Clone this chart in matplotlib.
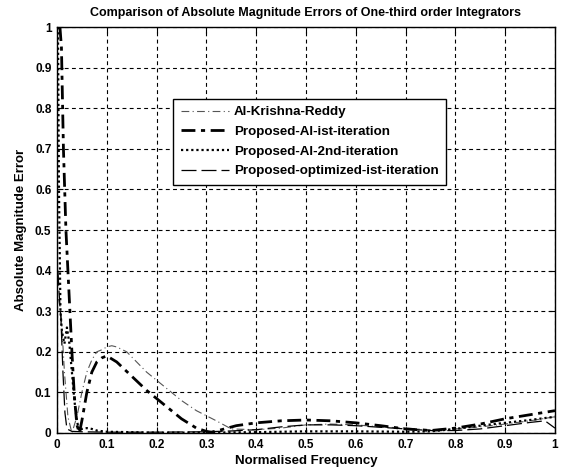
import matplotlib.pyplot as plt

# Al-Krishna-Reddy
x_akr = [0.003, 0.008, 0.015, 0.022, 0.03, 0.04, 0.05, 0.06, 0.07, 0.08, 0.09, 0.1, 0.11, 0.12, 0.14,
         0.16, 0.18, 0.2, 0.22, 0.25, 0.28, 0.32, 0.35, 0.4, 0.45, 0.5, 0.55, 0.6, 0.65, 0.7, 0.75,
         0.8, 0.85, 0.9, 0.95, 1.0]
y_akr = [0.33, 0.3, 0.15, 0.04, 0.0, 0.04, 0.1, 0.15, 0.18, 0.2, 0.205, 0.212, 0.215, 0.212, 0.2,
         0.175, 0.15, 0.13, 0.11, 0.08, 0.055, 0.03, 0.01, 0.008, 0.012, 0.02, 0.022, 0.02, 0.015, 0.012, 0.008,
         0.01, 0.015, 0.022, 0.03, 0.04]

# Proposed-Al-ist-iteration
x_p1 = [0.006, 0.009, 0.013, 0.018, 0.022, 0.026, 0.03, 0.035, 0.04, 0.045, 0.05, 0.06, 0.07, 0.08,
        0.09, 0.1, 0.12, 0.15, 0.18, 0.2, 0.22, 0.25, 0.28, 0.3, 0.31, 0.33, 0.36, 0.4, 0.45, 0.5,
        0.55, 0.6, 0.65, 0.7, 0.75, 0.8, 0.85, 0.9, 0.95, 1.0]
y_p1 = [1.0, 0.95, 0.7, 0.5, 0.4, 0.3, 0.2, 0.09, 0.02, 0.0, 0.03, 0.1, 0.15, 0.175,
        0.185, 0.19, 0.175, 0.14, 0.105, 0.085, 0.065, 0.035, 0.012, 0.004, 0.002, 0.008, 0.018, 0.025, 0.03, 0.032,
        0.03, 0.025, 0.018, 0.01, 0.006, 0.012, 0.022, 0.035, 0.045, 0.055]

# Proposed-Al-2nd-iteration
x_p2 = [0.002, 0.004, 0.007, 0.01, 0.015, 0.02, 0.025, 0.03, 0.035, 0.04, 0.045, 0.05, 0.06, 0.07,
        0.08, 0.1, 0.15, 0.2, 0.3, 0.4, 0.5, 0.6, 0.7, 0.75, 0.8, 0.85, 0.9, 0.95, 1.0]
y_p2 = [1.0, 0.6, 0.3, 0.25, 0.22, 0.26, 0.22, 0.15, 0.08, 0.03, 0.005, 0.01, 0.012, 0.01,
        0.006, 0.003, 0.002, 0.001, 0.001, 0.002, 0.004, 0.004, 0.003, 0.004, 0.01, 0.018, 0.025, 0.032, 0.04]

# Proposed-optimized-ist-iteration
x_opt = [0.002, 0.004, 0.008, 0.012, 0.016, 0.02, 0.03, 0.05, 0.1, 0.2, 0.3, 0.35, 0.4, 0.45, 0.5,
         0.55, 0.6, 0.65, 0.7, 0.75, 0.8, 0.85, 0.9, 0.95, 0.98, 1.0]
y_opt = [0.4, 0.35, 0.28, 0.15, 0.05, 0.01, 0.004, 0.003, 0.002, 0.002, 0.003, 0.005, 0.008, 0.015, 0.02,
         0.02, 0.018, 0.014, 0.01, 0.006, 0.006, 0.01, 0.018, 0.026, 0.03, 0.012]

x_ticks = [0, 0.1, 0.2, 0.3, 0.4, 0.5, 0.6, 0.7, 0.8, 0.9, 1]
y_ticks = [0, 0.1, 0.2, 0.3, 0.4, 0.5, 0.6, 0.7, 0.8, 0.9, 1]
tick_labels = ["0", "0.1", "0.2", "0.3", "0.4", "0.5", "0.6", "0.7", "0.8", "0.9", "1"]

plt.rcParams["font.family"] = ["Liberation Sans", "DejaVu Sans"]
plt.rcParams["font.weight"] = "bold"

fig = plt.figure(figsize=(5.64, 4.73), dpi=100)
ax = fig.add_axes([0.101, 0.0846, 0.883, 0.858])

ax.plot(x_akr, y_akr, color="#555555", lw=0.8, dashes=(7, 3, 1, 3), label="Al-Krishna-Reddy")
ax.plot(x_p1, y_p1, color="black", lw=2.0, dashes=(5, 2, 1.5, 2), label="Proposed-Al-ist-iteration")
ax.plot(x_p2, y_p2, color="black", lw=1.6, dashes=(1, 1.3), label="Proposed-Al-2nd-iteration")
ax.plot(x_opt, y_opt, color="black", lw=0.9, dashes=(12, 4), label="Proposed-optimized-ist-iteration")

ax.set_xlim(0, 1)
ax.set_ylim(0, 1)
ax.set_xticks(x_ticks)
ax.set_xticklabels(tick_labels)
ax.set_yticks(y_ticks)
ax.set_yticklabels(tick_labels)
ax.tick_params(direction="in", length=4, labelsize=8.5, pad=4, top=True, right=True)
for lab in ax.get_xticklabels() + ax.get_yticklabels():
    lab.set_fontweight("bold")
ax.grid(True, color="black", linestyle=(0, (3.5, 3)), lw=0.8)
for s in ax.spines.values():
    s.set_linewidth(1.0)

ax.set_title("Comparison of Absolute Magnitude Errors of One-third order Integrators",
             fontsize=9, fontweight="bold", pad=8)
ax.set_xlabel("Normalised Frequency", fontsize=9.5, fontweight="bold", labelpad=3)
ax.set_ylabel("Absolute Magnitude Error", fontsize=9.5, fontweight="bold", labelpad=6)

leg = ax.legend(loc="upper left", bbox_to_anchor=(0.22, 0.84), fontsize=9.6, frameon=True,
                fancybox=False, edgecolor="black", framealpha=1, handlelength=3.6,
                borderpad=0.55, labelspacing=0.55, handletextpad=0.4)
leg.get_frame().set_linewidth(1.0)
for t in leg.get_texts():
    t.set_fontweight("bold")

plt.savefig("out.png", dpi=100)
plt.close()
